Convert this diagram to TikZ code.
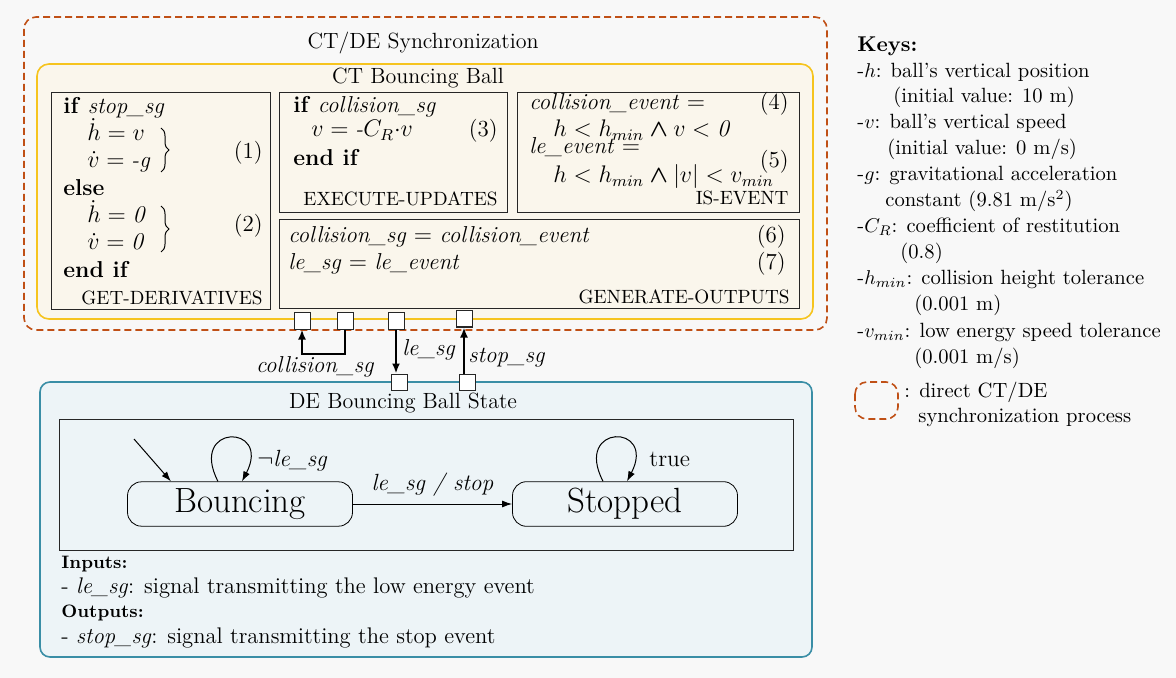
\documentclass[tikz,border=0pt]{standalone}
\usepackage{amsmath}
\usepackage{amssymb}
\usetikzlibrary{arrows.meta,positioning,decorations.pathreplacing}

\definecolor{bggray}{RGB}{248,248,248}
\definecolor{syncorange}{RGB}{192,80,22}
\definecolor{ctyellow}{RGB}{246,196,30}
\definecolor{ctfill}{RGB}{250,246,236}
\definecolor{deblue}{RGB}{58,142,166}
\definecolor{defill}{RGB}{237,244,247}

\tikzset{
  syncframe/.style={draw=syncorange, dash pattern=on 3.5pt off 2pt, line width=0.8pt, rounded corners=6pt},
  ctframe/.style={draw=ctyellow, fill=ctfill, line width=0.8pt, rounded corners=6pt},
  deframe/.style={draw=deblue, fill=defill, line width=0.8pt, rounded corners=5pt},
  funcbox/.style={draw=black!85, fill=ctfill, line width=0.5pt},
  title/.style={anchor=base, inner sep=0pt, font=\fontsize{11}{13}\selectfont},
  txt/.style={anchor=base west, inner sep=0pt, font=\fontsize{11.5}{14}\selectfont},
  rtxt/.style={anchor=base east, inner sep=0pt, font=\fontsize{11.5}{14}\selectfont},
  fname/.style={anchor=base east, inner sep=0pt, font=\fontsize{9.6}{12}\selectfont},
  keytxt/.style={anchor=base west, inner sep=0pt, font=\fontsize{10.3}{12.5}\selectfont},
  iotxt/.style={anchor=base west, inner sep=0pt, font=\fontsize{11.3}{13}\selectfont},
  iohead/.style={anchor=base west, inner sep=0pt, font=\fontsize{9}{11}\selectfont\bfseries},
  port/.style={draw=black!85, fill=white, minimum size=8pt, inner sep=0pt, line width=0.5pt},
  sigarrow/.style={-{Latex[length=5pt,width=4pt]}, line width=1pt},
  siglabel/.style={inner sep=0pt, font=\fontsize{11.5}{14}\selectfont},
  fsmstate/.style={draw, rounded corners=7pt, fill=defill, minimum width=112.5pt, minimum height=22pt, font=\fontsize{17.5}{20}\selectfont},
  fsmarrow/.style={-{Latex[length=5pt,width=3.5pt]}, line width=0.5pt},
  fsmlabel/.style={font=\fontsize{11.7}{14}\selectfont},
  rbrace/.style={decorate, decoration={brace,amplitude=4pt}, line width=0.5pt},
}

\begin{document}
\begin{tikzpicture}[x=0.5pt,y=-0.5pt]
  \fill[bggray] (0,0) rectangle (1176,678);

  % CT/DE synchronization
  \draw[syncframe] (24,17) rectangle (827,330);
  \node[title] (synctitle) at (423,49) {CT/DE Synchronization};

  % CT model
  \draw[ctframe] (37,64) rectangle (813,319);
  \node[title] (cttitle) at (418,84) {CT Bouncing Ball};
  \draw[funcbox] (51,93) rectangle (270,310);
  \draw[funcbox] (279,93) rectangle (507,213);
  \draw[funcbox] (517,93) rectangle (799,213);
  \draw[funcbox] (279,220) rectangle (799,309);

  % get-derivatives
  \node[txt] (gdif) at (63,114) {\textbf{if} \textit{stop\_sg}};
  \node[txt] (gdh) at (87,141) {$\dot{h} = v$};
  \node[txt] (gdv) at (87,168) {$\dot{v} = \textit{-g}$};
  \node[txt] (gdelse) at (63,196) {\textbf{else}};
  \node[txt] (gdhz) at (87,223) {$\dot{h} = \mathit{0}$};
  \node[txt] (gdvz) at (87,250) {$\dot{v} = \mathit{0}$};
  \node[txt] (gdend) at (63,278) {\textbf{end if}};
  \draw[rbrace] (161,128) -- (161,172);
  \draw[rbrace] (161,206) -- (161,252);
  \node[rtxt] (eqone) at (263,159) {(1)};
  \node[rtxt] (eqtwo) at (263,232) {(2)};
  \node[fname] (gdname) at (263,305) {GET-DERIVATIVES};

  % execute-updates
  \node[txt] (euif) at (293,113) {\textbf{if} \textit{collision\_sg}};
  \node[txt] (euv) at (311,137) {$v = \textit{-}C_R{\cdot}v$};
  \node[txt] (euend) at (293,166) {\textbf{end if}};
  \node[rtxt] (eqthree) at (498,137) {(3)};
  \node[fname] (euname) at (498,206) {EXECUTE-UPDATES};

  % is-event
  \node[txt] (iecoll) at (529,110) {\textit{collision\_event} $=$};
  \node[txt] (iecollx) at (553,137) {$h < h_{min} \mathbin{\boldsymbol{\wedge}} v < \mathit{0}$};
  \node[txt] (iele) at (529,154) {\textit{le\_event} $=$};
  \node[txt] (ielex) at (553,183) {$h < h_{min} \mathbin{\boldsymbol{\wedge}} |v| < v_{min}$};
  \node[rtxt] (eqfour) at (789,110) {(4)};
  \node[rtxt] (eqfive) at (789,168) {(5)};
  \node[fname] (iename) at (789,205) {IS-EVENT};

  % generate-outputs
  \node[txt] (gocoll) at (288,243) {\textit{collision\_sg} $=$ \textit{collision\_event}};
  \node[txt] (gole) at (288,270) {\textit{le\_sg} $=$ \textit{le\_event}};
  \node[rtxt] (eqsix) at (786,243) {(6)};
  \node[rtxt] (eqseven) at (786,270) {(7)};
  \node[fname] (goname) at (790,304) {GENERATE-OUTPUTS};

  % DE model
  \draw[deframe] (40,382) rectangle (812,657);
  \node[title] (detitle) at (403,408) {DE Bouncing Ball State};
  \draw[black!85, line width=0.5pt] (59,419) rectangle (793,550);
  \node[fsmstate] (bounce) at (240,504) {Bouncing};
  \node[fsmstate] (stopped) at (625,504) {Stopped};
  \coordinate (init) at (134,439);
  \draw[fsmarrow] (init) -- (bounce.north west -| 171,0);
  \draw[fsmarrow] ([xshift=-11pt]bounce.north) .. controls +(-30,-58) and +(30,-58) .. ([xshift=1pt]bounce.north);
  \node[fsmlabel, anchor=base west, inner sep=0pt] (bouncelbl) at (257,466) {$\neg$\textit{le\_sg}};
  \draw[fsmarrow] ([xshift=-11pt]stopped.north) .. controls +(-30,-58) and +(30,-58) .. ([xshift=1pt]stopped.north);
  \node[fsmlabel, anchor=base west, inner sep=0pt] (stoplbl) at (649,466) {true};
  \draw[fsmarrow] (bounce) -- node[fsmlabel, above] {\textit{le\_sg / stop}} (stopped);
  \node[iohead] (inhead) at (61,568) {Inputs:};
  \node[iotxt] (inline) at (61,593) {- \textit{le\_sg}: signal transmitting the low energy event};
  \node[iohead] (outhead) at (61,617) {Outputs:};
  \node[iotxt] (outline) at (61,643) {- \textit{stop\_sg}: signal transmitting the stop event};

  % ports and signals
  \node[port] (p1) at (302,321) {};
  \node[port] (p2) at (345,321) {};
  \node[port] (p3) at (396,321) {};
  \node[port] (p4) at (464,319) {};
  \node[port] (p5) at (399,382) {};
  \node[port] (p6) at (467,382) {};
  \draw[sigarrow] (p2.south) -- ++(0,24) -| (p1.south);
  \draw[sigarrow] (p3.south) -- (p3.south |- p5.north);
  \draw[sigarrow] (p4.south |- p6.north) -- (p4.south);
  \node[siglabel] (collbl) at (315,367) {\textit{collision\_sg}};
  \node[siglabel, anchor=west] (lelbl) at (402,350) {\textit{le\_sg}};
  \node[siglabel, anchor=west] (stopsiglbl) at (468,358) {\textit{stop\_sg}};

  % keys
  \node[keytxt, font=\fontsize{10.7}{13}\selectfont\bfseries] (keyhead) at (857,52) {Keys:};
  \node[keytxt] (k1) at (857,78) {-$h$: ball's vertical position};
  \node[keytxt] (k1b) at (893,103) {(initial value: 10 m)};
  \node[keytxt] (k2) at (857,129) {-$v$: ball's vertical speed};
  \node[keytxt] (k2b) at (887,155) {(initial value: 0 m/s)};
  \node[keytxt] (k3) at (857,181) {-$g$: gravitational acceleration};
  \node[keytxt] (k3b) at (885,207) {constant (9.81 m/s$^2$)};
  \node[keytxt] (k4) at (857,233) {-$C_R$: coefficient of restitution};
  \node[keytxt] (k4b) at (900,259) {(0.8)};
  \node[keytxt] (k5) at (857,285) {-$h_{min}$: collision height tolerance};
  \node[keytxt] (k5b) at (914,311) {(0.001 m)};
  \node[keytxt] (k6) at (857,337) {-$v_{min}$: low energy speed tolerance};
  \node[keytxt] (k6b) at (914,363) {(0.001 m/s)};
  \draw[syncframe] (855,382) rectangle (898,419);
  \node[keytxt] (k7) at (904,397) {: direct CT/DE};
  \node[keytxt] (k7b) at (918,422) {synchronization process};
\end{tikzpicture}
\end{document}
